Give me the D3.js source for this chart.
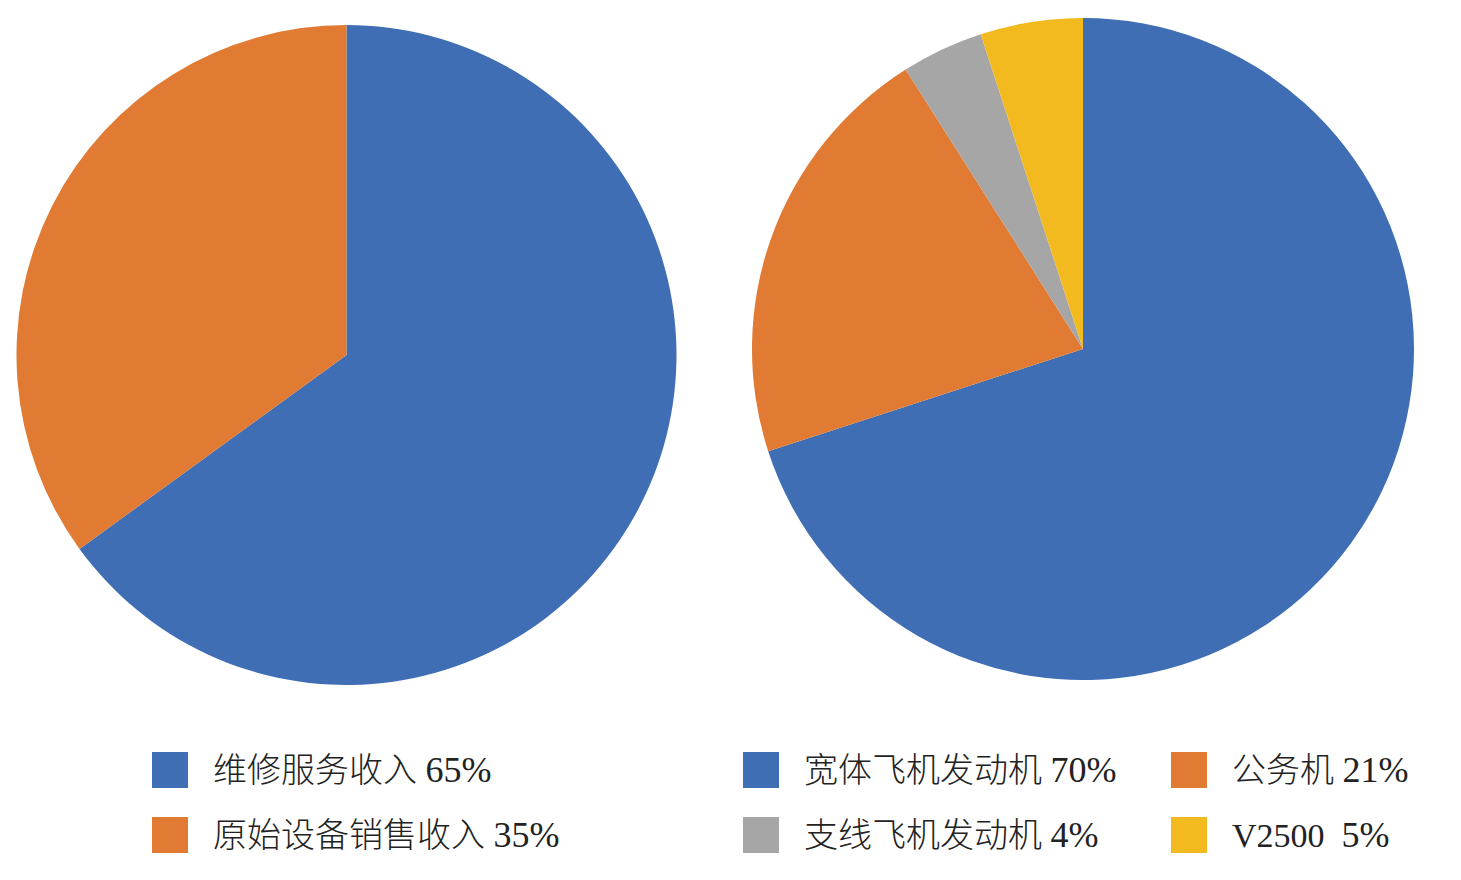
<!DOCTYPE html>
<html><head><meta charset="utf-8">
<script src="https://cdn.jsdelivr.net/npm/d3@7"></script>
<style>body{margin:0;background:#fff;} text{white-space:pre;}</style>
</head><body>
<svg id="c" width="1461" height="880"></svg>
<script>
const leftLabels = ["维修服务收入", "原始设备销售收入"];
const leftValues = [65, 35];
const leftColors = ["#3F6EB5", "#E17A33"];

const rightLabels = ["宽体飞机发动机", "公务机", "支线飞机发动机", "V2500 "];
const rightValues = [70, 21, 4, 5];
const rightColors = ["#3F6EB5", "#E17A33", "#A6A6A6", "#F3BA1F"];

const svg = d3.select("#c");
const pie = d3.pie().sort(null).value(d => d.v);

function drawPie(cx, cy, r, labels, values, colors) {
  const data = labels.map((l, i) => ({l, v: values[i], c: colors[i]}));
  const arc = d3.arc().innerRadius(0).outerRadius(r);
  svg.append("g").attr("transform", `translate(${cx},${cy})`)
    .selectAll("path").data(pie(data)).join("path")
    .attr("d", arc).attr("fill", d => d.data.c);
}
drawPie(346.5, 355, 330, leftLabels, leftValues, leftColors);
drawPie(1083, 349, 331, rightLabels, rightValues, rightColors);

const font = "'Liberation Serif','Noto Sans CJK SC',serif";
function legendItem(x, y, label, value, color) {
  svg.append("rect").attr("x", x).attr("y", y - 18).attr("width", 36).attr("height", 36).attr("fill", color);
  const t = svg.append("text").attr("x", x + 61).attr("y", y).attr("dominant-baseline", "central")
    .attr("font-family", font).attr("font-size", 34).attr("font-weight", 300).attr("fill", "#222");
  t.append("tspan").attr("font-size", 34).text(label + " ");
  t.append("tspan").attr("font-size", 36).text(value + "%");
}
legendItem(152, 770, leftLabels[0], leftValues[0], leftColors[0]);
legendItem(152, 835, leftLabels[1], leftValues[1], leftColors[1]);
legendItem(743, 770, rightLabels[0], rightValues[0], rightColors[0]);
legendItem(1171, 770, rightLabels[1], rightValues[1], rightColors[1]);
legendItem(743, 835, rightLabels[2], rightValues[2], rightColors[2]);
legendItem(1171, 835, rightLabels[3], rightValues[3], rightColors[3]);
</script>
</body></html>
